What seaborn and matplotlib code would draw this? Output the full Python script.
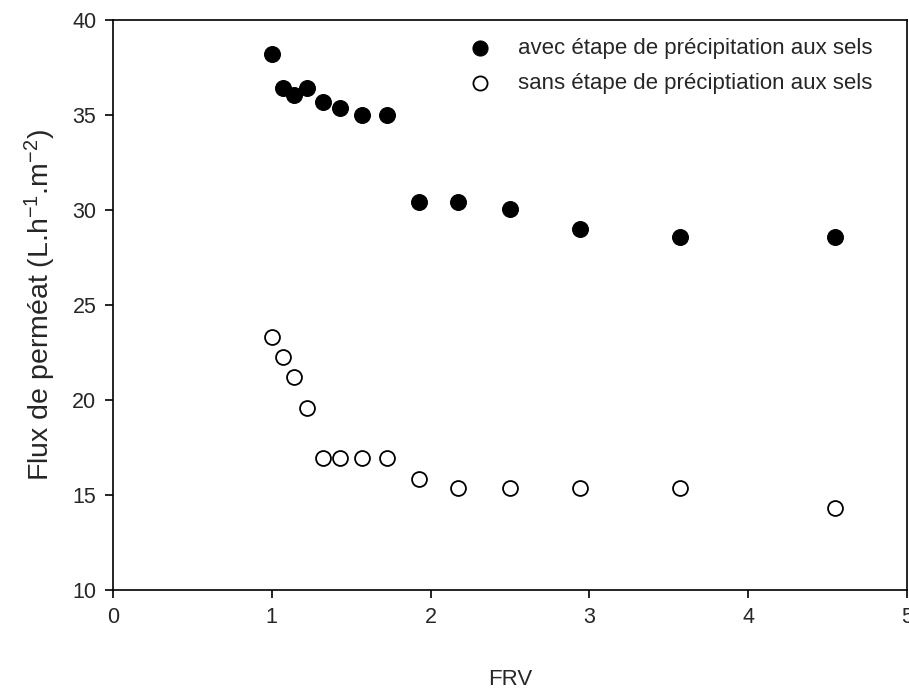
import matplotlib
matplotlib.use("Agg")
import matplotlib.pyplot as plt
import seaborn as sns
import pandas as pd

frv = [1.00, 1.07, 1.14, 1.22, 1.32, 1.43, 1.57, 1.725, 1.925, 2.175, 2.50, 2.94, 3.57, 4.545]
flux_avec = [38.2, 36.4, 36.05, 36.4, 35.7, 35.35, 35.0, 35.0, 30.4, 30.4, 30.05, 29.0, 28.6, 28.6]
flux_sans = [23.3, 22.25, 21.2, 19.6, 16.95, 16.95, 16.95, 16.95, 15.85, 15.35, 15.35, 15.35, 15.35, 14.3]
label_avec = "avec étape de précipitation aux sels"
label_sans = "sans étape de préciptiation aux sels"
x_ticks = [0, 1, 2, 3, 4, 5]
y_ticks = [10, 15, 20, 25, 30, 35, 40]

sns.set_style("white")
plt.rcParams['font.family'] = ['Liberation Sans', 'DejaVu Sans']
plt.rcParams['mathtext.fontset'] = 'custom'
plt.rcParams['mathtext.rm'] = 'Liberation Sans'
plt.rcParams['mathtext.it'] = 'Liberation Sans'

df_avec = pd.DataFrame({"FRV": frv, "Flux": flux_avec})
df_sans = pd.DataFrame({"FRV": frv, "Flux": flux_sans})

fig = plt.figure(figsize=(9.09, 6.93), dpi=100)
ax = fig.add_axes([0.1243, 0.1486, 0.8735, 0.8225])

sns.scatterplot(data=df_avec, x="FRV", y="Flux", ax=ax, color="black",
                edgecolor="black", s=130, linewidth=0.8, label=label_avec, zorder=3)
sns.scatterplot(data=df_sans, x="FRV", y="Flux", ax=ax, color="white",
                edgecolor="black", s=115, linewidth=1.3, label=label_sans, zorder=3)

ax.set_xlim(0, 5)
ax.set_ylim(10, 40)
ax.set_xticks(x_ticks)
ax.set_yticks(y_ticks)
ax.tick_params(axis="both", direction="out", length=6, width=1.2, labelsize=15.5,
               bottom=True, left=True, top=False, right=False, color="black", pad=6)
for sp in ax.spines.values():
    sp.set_visible(True)
    sp.set_color("black")
    sp.set_linewidth(1.2)

ax.set_xlabel("FRV", fontsize=16, labelpad=30)
ax.set_ylabel("Flux de perméat (L.h$^{\\mathregular{-1}}$.m$^{\\mathregular{-2}}$)", fontsize=20.5, labelpad=10)

leg = ax.legend(loc="upper left", bbox_to_anchor=(0.448, 0.968), frameon=False,
                fontsize=16, markerscale=0.95, handlelength=1.0, handletextpad=1.2,
                labelspacing=0.6, borderpad=0, borderaxespad=0)

fig.savefig("out.png", dpi=100)
